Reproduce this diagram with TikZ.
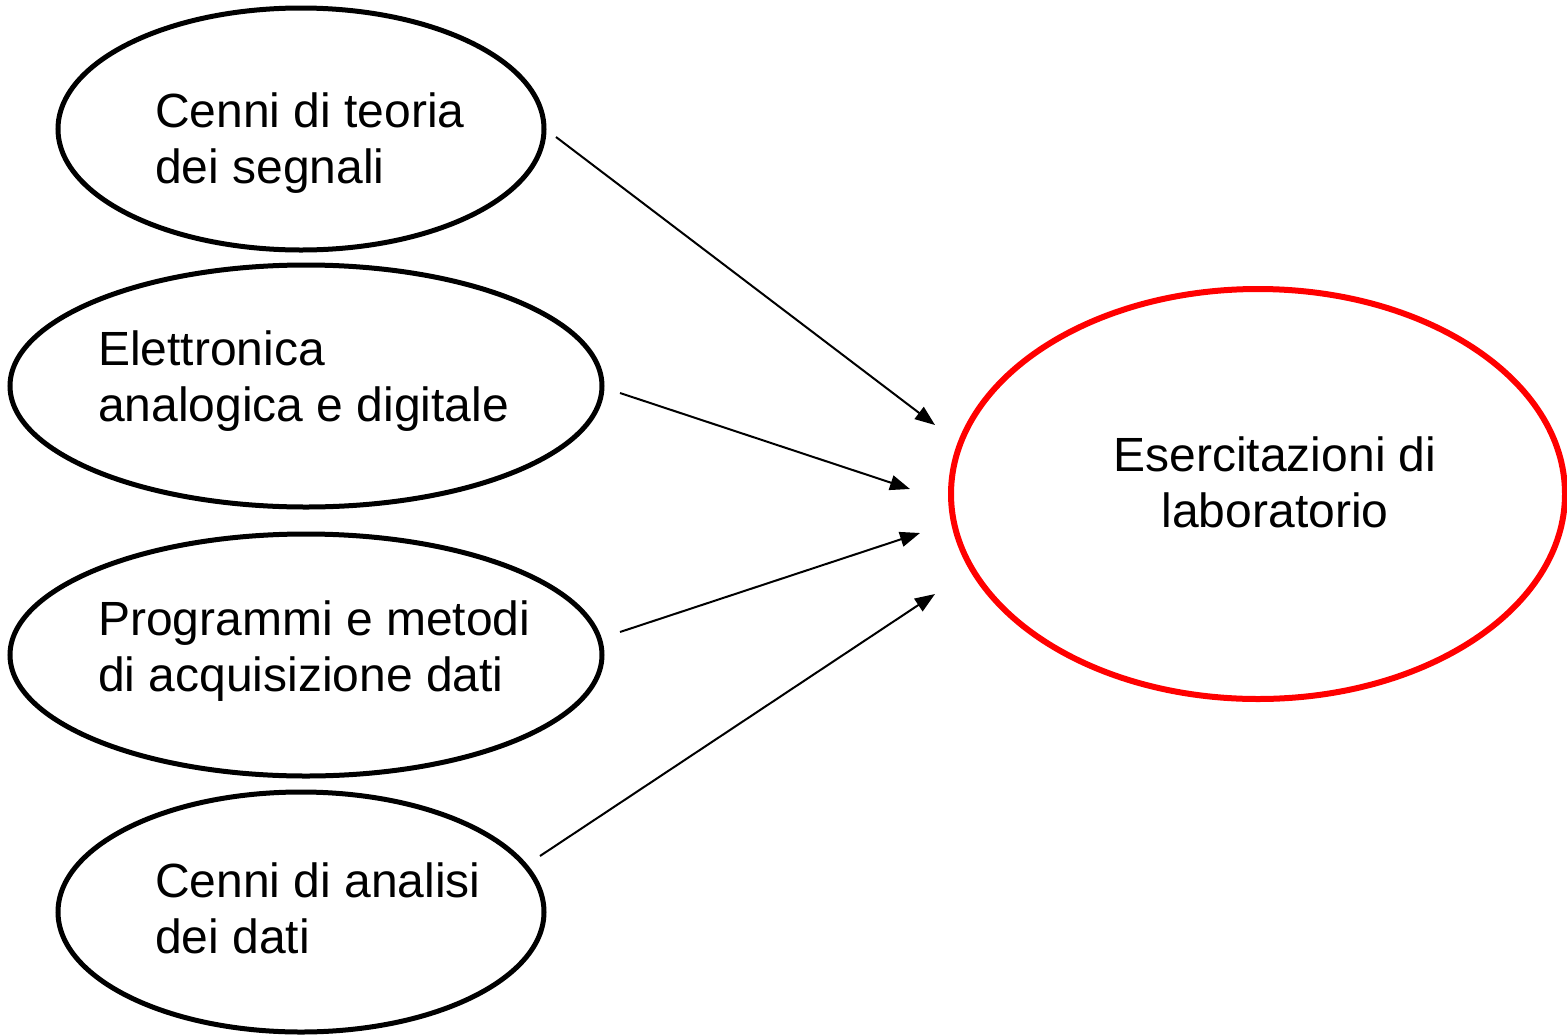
\documentclass[tikz,border=0pt]{standalone}
\usepackage{fontspec}
\setmainfont{Liberation Sans}
\usetikzlibrary{shapes.geometric,arrows.meta}
\tikzset{
  topic/.style={ellipse,draw=black,line width=5pt,inner sep=0pt},
  goal/.style={ellipse,draw=red,line width=6pt,inner sep=0pt},
  lbl/.style={inner sep=0pt,font=\fontsize{48}{56}\selectfont},
  link/.style={line width=2pt,-{Triangle[length=20pt,width=15pt]}}
}
\begin{document}
\begin{tikzpicture}[x=1pt,y=-1pt]
\useasboundingbox (0,0) rectangle (1567,1034);
\node[topic,minimum width=486pt,minimum height=242pt] (e1) at (301,129) {};
\node[topic,minimum width=592pt,minimum height=242pt] (e2) at (306,386) {};
\node[topic,minimum width=592pt,minimum height=242pt] (e3) at (306,655) {};
\node[topic,minimum width=486pt,minimum height=240pt] (e4) at (301,912) {};
\node[goal,minimum width=614pt,minimum height=410pt] (g) at (1258,494) {};
\node[lbl,anchor=base west,align=left] (t1) at (155,183) {Cenni di teoria\\dei segnali};
\node[lbl,anchor=base west,align=left] (t2) at (98,421) {Elettronica\\analogica e digitale};
\node[lbl,anchor=base west,align=left] (t3) at (98,691) {Programmi e metodi\\di acquisizione dati};
\node[lbl,anchor=base west,align=left] (t4) at (155,953) {Cenni di analisi\\dei dati};
\node[lbl,anchor=base,align=center] (tg) at (1275,527) {Esercitazioni di\\laboratorio};
\coordinate (s1) at (556,137);
\coordinate (s2) at (620,393);
\coordinate (s3) at (620,632);
\coordinate (s4) at (540,856);
\coordinate (d1) at (935,425);
\coordinate (d2) at (910,489);
\coordinate (d3) at (920,533);
\coordinate (d4) at (935,594);
\draw[link] (s1) -- (d1);
\draw[link] (s2) -- (d2);
\draw[link] (s3) -- (d3);
\draw[link] (s4) -- (d4);
\end{tikzpicture}
\end{document}
